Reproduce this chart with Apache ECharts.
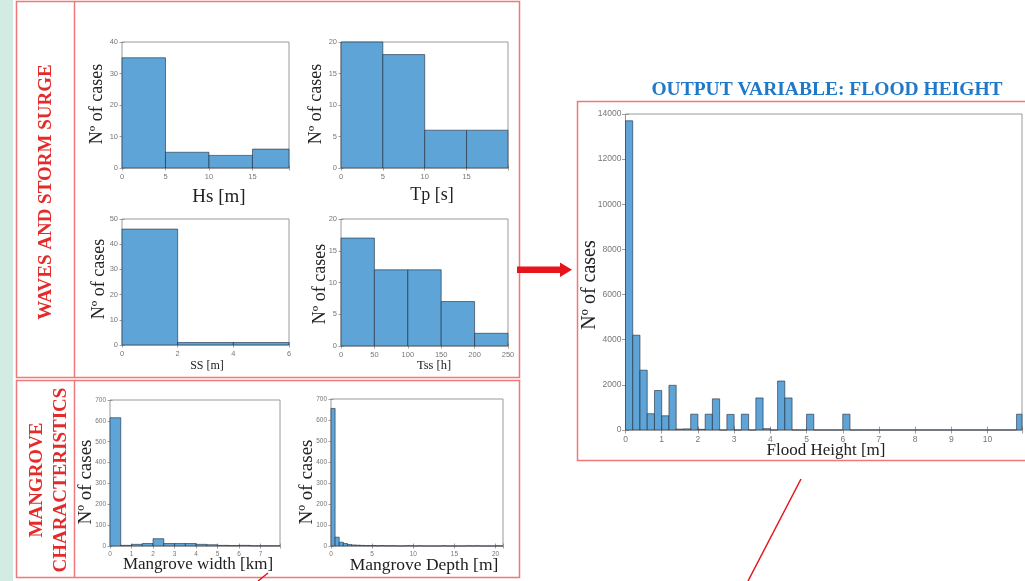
<!DOCTYPE html>
<html>
<head>
<meta charset="utf-8">
<script src="https://cdn.jsdelivr.net/npm/echarts@6/dist/echarts.min.js"></script>
<style>html,body{margin:0;padding:0;background:#fff}#main{width:1025px;height:581px}</style>
</head>
<body>
<div id="main"></div>
<script>
// histogram bin edges and counts
var hsEdges = [0, 5, 10, 15, 19.2];
var hsCounts = [35, 5, 4, 6];
var tpEdges = [0, 5, 10, 15, 19.95];
var tpCounts = [20, 18, 6, 6];
var ssEdges = [0, 2, 4, 6];
var ssCounts = [46, 1, 1];
var tssEdges = [0, 50, 100, 150, 200, 250];
var tssCounts = [17, 12, 12, 7, 2];

var mwStep = 0.5;
var mwCounts = [615, 3, 8, 12, 35, 12, 12, 12, 8, 6, 3, 2, 3, 1, 1, 1];
var mdStep = 0.5;
var mdCounts = [655, 42, 18, 12, 7, 5, 4, 3, 2, 2, 2, 1, 2, 1, 1, 1, 0, 0, 1, 1, 0, 1,
                0, 0, 0, 0, 0, 1, 0, 0, 0, 0, 0, 1, 0, 1, 0, 0, 0, 0, 1, 0];

var floodStep = 0.2;
var floodCounts = [13700, 4200, 2650, 720, 1750, 630, 1980, 40, 50, 700,
                   30, 700, 1380, 0, 690, 0, 700, 0, 1420, 60,
                   0, 2170, 1420, 0, 0, 700, 0, 0, 0, 0,
                   700, 0, 0, 0, 0, 0, 0, 0, 0, 0,
                   0, 0, 0, 0, 0, 0, 0, 0, 0, 0,
                   0, 0, 0, 0, 700];

var BAR = '#5ea4d7', EDGE = 'rgba(30,40,55,0.85)', AXIS = '#9a9a9a', TXT = '#777';
var RED = '#f07878', SERIF = 'Liberation Serif', SANS = 'Liberation Sans';

function fromEdges(edges, counts) {
  return counts.map(function (c, i) { return [edges[i], edges[i + 1], c]; });
}
function fromStep(step, counts) {
  return counts.map(function (c, i) { return [i * step, (i + 1) * step, c]; });
}

function renderHist(params, api) {
  var p0 = api.coord([api.value(0), api.value(2)]);
  var p1 = api.coord([api.value(1), 0]);
  var cs = params.coordSys;
  var r = echarts.graphic.clipRectByRect(
    {x: p0[0], y: p0[1], width: p1[0] - p0[0], height: p1[1] - p0[1]},
    {x: cs.x, y: cs.y, width: cs.width, height: cs.height});
  if (!r) return;
  return {type: 'rect', shape: r, style: {fill: BAR, stroke: EDGE, lineWidth: 0.7}};
}

function tickFmt(step) {
  return function (v) {
    var k = v / step;
    return Math.abs(k - Math.round(k)) < 1e-6 ? String(Math.round(v * 100) / 100) : '';
  };
}

var grids = [], xAxes = [], yAxes = [], series = [];

function panel(box, xmax, xint, ymax, yint, fs, tl, data) {
  var gi = grids.length;
  grids.push({left: box[0], top: box[1], width: box[2], height: box[3], show: true,
    borderColor: AXIS, borderWidth: 1, backgroundColor: '#fff'});
  var tick = {inside: true, length: tl, lineStyle: {color: '#888', width: 0.8}};
  [['bottom', true], ['top', false]].forEach(function (p) {
    xAxes.push({gridIndex: gi, type: 'value', position: p[0], min: 0, max: xmax, interval: xint,
      axisLine: {show: false}, axisTick: tick, splitLine: {show: false},
      axisLabel: {show: p[1], fontSize: fs, color: TXT, fontFamily: SANS, margin: 5, formatter: tickFmt(xint)}});
  });
  [['left', true], ['right', false]].forEach(function (p) {
    yAxes.push({gridIndex: gi, type: 'value', position: p[0], min: 0, max: ymax, interval: yint,
      axisLine: {show: false}, axisTick: tick, splitLine: {show: false},
      axisLabel: {show: p[1], fontSize: fs, color: TXT, fontFamily: SANS, margin: 4, formatter: tickFmt(yint)}});
  });
  series.push({type: 'custom', xAxisIndex: gi * 2, yAxisIndex: gi * 2, renderItem: renderHist,
    data: data, silent: true, animation: false});
}

panel([122, 42, 167, 126], 19.2, 5, 40, 10, 7.5, 2.5, fromEdges(hsEdges, hsCounts));
panel([341, 42, 167, 126], 19.95, 5, 20, 5, 7.5, 2.5, fromEdges(tpEdges, tpCounts));
panel([122, 219, 167, 126], 6, 2, 50, 10, 7.5, 2.5, fromEdges(ssEdges, ssCounts));
panel([341, 219, 167, 127], 250, 50, 20, 5, 7.5, 2.5, fromEdges(tssEdges, tssCounts));
panel([110, 400, 170, 146], 7.9, 1, 700, 100, 6.5, 2.5, fromStep(mwStep, mwCounts));
panel([331, 399, 172, 147], 20.9, 5, 700, 100, 6.5, 2.5, fromStep(mdStep, mdCounts));
panel([625.5, 114, 400, 316], 10.95, 1, 14000, 2000, 8.5, 3.5, fromStep(floodStep, floodCounts));

function txt(x, y, s, size, opt) {
  opt = opt || {};
  return {type: 'text', x: x, y: y, rotation: opt.rot || 0, scaleX: opt.sx || 1, z: 10,
    style: {text: s, fontSize: size, fontFamily: SERIF, fontWeight: opt.bold ? 'bold' : 'normal',
      fill: opt.color || '#222', align: 'center', verticalAlign: 'middle', lineHeight: opt.lh}};
}
var V = Math.PI / 2;

var graphics = [
  {type: 'rect', shape: {x: 0, y: 0, width: 13, height: 581}, style: {fill: '#d2ebe3'}, z: -1},
  {type: 'rect', shape: {x: 16.5, y: 1.5, width: 503, height: 376}, style: {fill: null, stroke: RED, lineWidth: 1.5}},
  {type: 'line', shape: {x1: 74.5, y1: 1.5, x2: 74.5, y2: 377.5}, style: {stroke: RED, lineWidth: 1.5}},
  {type: 'rect', shape: {x: 16.5, y: 380.5, width: 503, height: 197}, style: {fill: null, stroke: RED, lineWidth: 1.5}},
  {type: 'line', shape: {x1: 74.5, y1: 380.5, x2: 74.5, y2: 577.5}, style: {stroke: RED, lineWidth: 1.5}},
  {type: 'rect', shape: {x: 577.5, y: 101.5, width: 460, height: 359}, style: {fill: null, stroke: RED, lineWidth: 1.5}},
  {type: 'polygon', shape: {points: [[517, 266.5], [560, 266.5], [560, 262.5], [572, 269.8], [560, 277], [560, 273], [517, 273]]},
    style: {fill: '#e8141c'}},
  {type: 'line', shape: {x1: 801, y1: 479, x2: 748, y2: 581}, style: {stroke: '#e8141c', lineWidth: 1.5}},
  {type: 'line', shape: {x1: 268, y1: 573, x2: 258, y2: 581}, style: {stroke: '#e8141c', lineWidth: 1.5}},

  txt(46, 192, 'WAVES AND STORM SURGE', 19, {rot: V, bold: true, color: '#e52a2a'}),
  txt(49, 480, 'MANGROVE\nCHARACTERISTICS', 19, {rot: V, bold: true, color: '#e52a2a', lh: 24}),
  txt(827, 90, 'OUTPUT VARIABLE: FLOOD HEIGHT', 19.5, {bold: true, color: '#1f78c8'}),

  txt(97, 104, 'Nº of cases', 18, {rot: V}),
  txt(316, 104, 'Nº of cases', 18, {rot: V}),
  txt(99, 279, 'Nº of cases', 18, {rot: V}),
  txt(320, 284, 'Nº of cases', 18, {rot: V}),
  txt(86, 482, 'Nº of cases', 19, {rot: V}),
  txt(307, 482, 'Nº of cases', 19, {rot: V}),
  txt(590, 285, 'Nº of cases', 20, {rot: V}),

  txt(219, 197, 'Hs [m]', 19),
  txt(432, 195, 'Tp [s]', 18),
  txt(207, 366, 'SS [m]', 12),
  txt(434, 366, 'Tss [h]', 12.5),
  txt(198, 565, 'Mangrove width [km]', 17),
  txt(424, 565, 'Mangrove Depth [m]', 17.5),
  txt(826, 451, 'Flood Height [m]', 17)
];

var chart = echarts.init(document.getElementById('main'));
chart.setOption({
  backgroundColor: '#fff',
  animation: false,
  grid: grids,
  xAxis: xAxes,
  yAxis: yAxes,
  series: series,
  graphic: graphics
});
</script>
</body>
</html>
